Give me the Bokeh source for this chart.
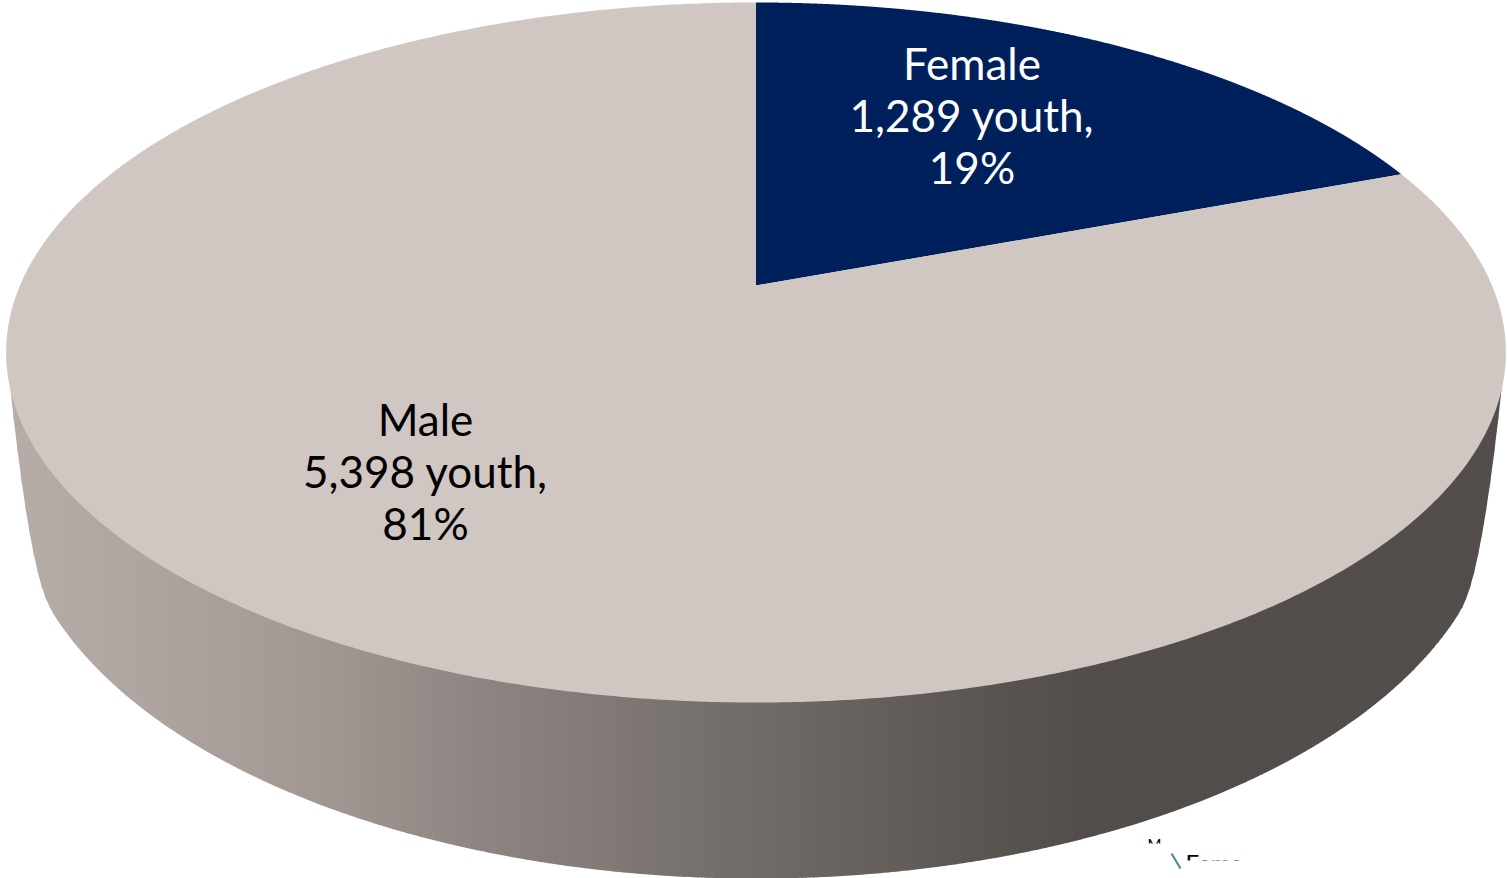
import numpy as np
from bokeh.core.properties import value
from bokeh.embed import file_html
from bokeh.models import Range1d
from bokeh.plotting import figure
from bokeh.resources import INLINE

# Survey counts shown on the pie
categories = ["Female", "Male"]
youth_counts = [1289, 5398]
slice_colors = ["#00205c", "#d0c6c2"]
label_colors = ["#ffffff", "#000000"]
label_lines = [["Female", "1,289 youth,", "19%"], ["Male", "5,398 youth,", "81%"]]

# Rim shading stops, left to right
shade_x = [30, 300, 500, 750, 1000, 1080]
shade_rgb = [(182, 172, 167), (163, 154, 150), (140, 131, 128), (113, 108, 104), (90, 84, 80), (83, 77, 76)]

W, H = 1507, 878
FONT = "Lato"

# Tilted disc: perspective projection of a unit circle
CX, APEX_Y = 755.5, 285.0
SPREAD, RISE, TILT = 736.0, 337.2, 0.1914
# Lower outline of the rim and its curved taper near both sides
LOW = dict(spread=726.0, rise=371.0, apex_y=419.3)
TAPER_START, TAPER_END, TAPER_Y = 9.0, 50.0, 380.0
TAPER_B, TAPER_C = 9.49, 0.0959


def disc(theta, spread=SPREAD, rise=RISE, apex_y=APEX_Y):
    """theta runs clockwise from twelve o'clock."""
    u, v = np.sin(theta), np.cos(theta)
    d = 1 + TILT * v
    return CX + spread * u / d, apex_y - rise * v / d


def lower_edge(x_at, spread, rise, apex_y):
    """Height of the front half of a disc outline at the given x positions."""
    full = np.linspace(0, 2 * np.pi, 2881)
    front = np.cos(full) < -TILT
    ex, ey = disc(full[front], spread, rise, apex_y)
    order = np.argsort(ex)
    return np.interp(x_at, ex[order], ey[order])


def rim_bottom(x_at):
    """Lower rim outline: the disc edge, with a tapered run close to the sides."""
    side = np.minimum(x_at, 2 * CX - x_at)
    t = side - TAPER_START
    return np.where(side < TAPER_END,
                    TAPER_Y + TAPER_B * t - TAPER_C * t ** 2,
                    lower_edge(x_at, **LOW))


p = figure(width=W, height=H, output_backend="svg", toolbar_location=None,
           x_range=Range1d(0, W), y_range=Range1d(H, 0), min_border=0,
           background_fill_color="#ffffff", border_fill_color="#ffffff")
p.axis.visible = False
p.grid.visible = False
p.outline_line_color = None

# Rim: narrow vertical strips, so the shading runs from left to right
edges = np.arange(TAPER_START, 2 * CX - TAPER_START + 1, 4.0)
xs, ys, fills = [], [], []
for x0, x1 in zip(edges[:-1], edges[1:]):
    ends = np.array([x0, x1 + 0.7])
    upper = lower_edge(ends, SPREAD, RISE, APEX_Y)
    lower = rim_bottom(ends)
    xs.append([ends[0], ends[1], ends[1], ends[0]])
    ys.append([upper[0] - 2, upper[1] - 2, lower[1], lower[0]])
    mid = (x0 + x1) / 2
    rgb = [int(round(np.interp(mid, shade_x, [c[i] for c in shade_rgb]))) for i in range(3)]
    fills.append("#%02x%02x%02x" % tuple(rgb))
p.patches(xs, ys, fill_color=fills, line_color=None)

# Top face, one wedge per category, starting at twelve o'clock
total = sum(youth_counts)
start = 0.0
for count, color in zip(youth_counts, slice_colors):
    sweep = 2 * np.pi * count / total
    arc = np.linspace(start, start + sweep, 721)
    ax, ay = disc(arc)
    p.patch(np.r_[CX, ax], np.r_[APEX_Y, ay], fill_color=color, line_color=None)
    start += sweep

# Data labels
anchors = [(971.5, 62), (425, 418.5)]
for lines, color, (lx, ly) in zip(label_lines, label_colors, anchors):
    for i, line in enumerate(lines):
        p.text([lx], [ly + i * 52], text=[line], text_color=color,
               text_font=value(FONT), text_font_size="44px",
               text_align="center", text_baseline="middle")

# Cropped remnant of a small legend below the rim
p.text([1147], [843.5], text=["M"], text_color="#000000", text_font=value(FONT),
       text_font_size="15px", text_align="left", text_baseline="middle")
p.text([1185], [861.5], text=["Fema"], text_color="#000000", text_font=value(FONT),
       text_font_size="24px", text_align="left", text_baseline="middle")
p.quad(left=[1140], right=[1170], top=[843], bottom=[878], fill_color="#ffffff", line_color=None)
p.quad(left=[1183], right=[1270], top=[860], bottom=[878], fill_color="#ffffff", line_color=None)
p.line([1171, 1180], [853, 868], line_color="#4a8494", line_width=2)

open("out.html", "w").write(file_html(p, INLINE))
